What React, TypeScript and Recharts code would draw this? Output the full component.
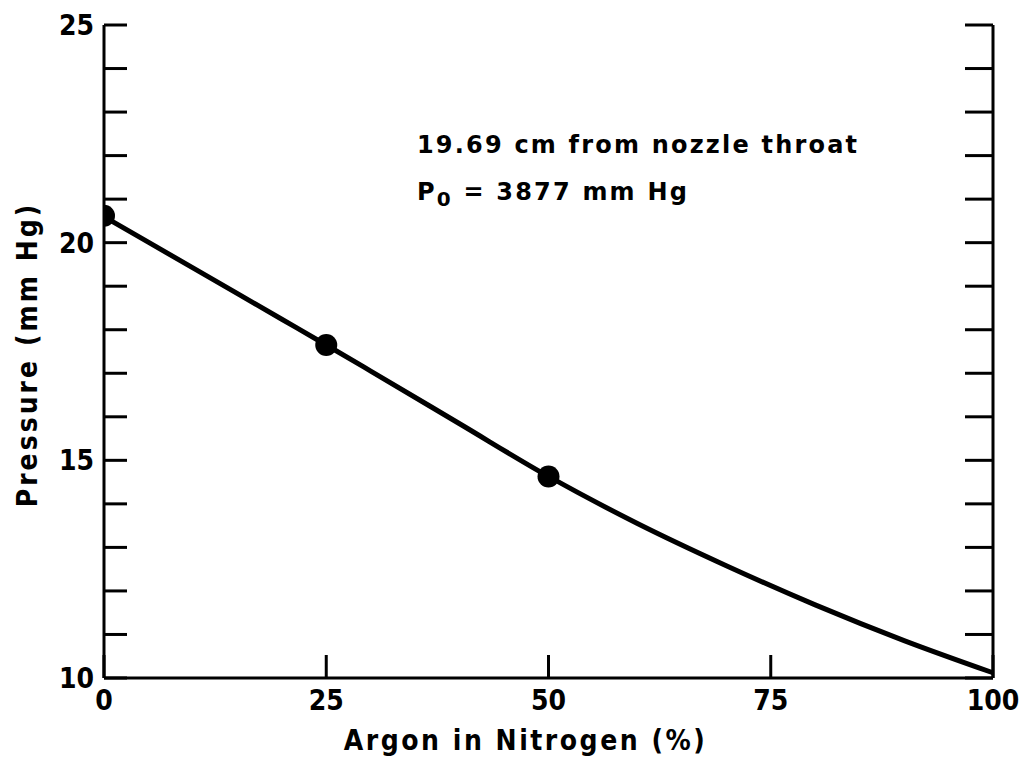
import React from 'react';
import { ComposedChart, Line, Scatter, XAxis, YAxis, ReferenceDot, Label } from 'recharts';

// Smooth fitted curve (Argon % vs pressure mm Hg)
const curveArgon = [0, 10, 20, 25, 30, 40, 50, 60, 70, 80, 90, 100];
const curvePressure = [20.6, 19.42, 18.24, 17.65, 17.05, 15.84, 14.63, 13.55, 12.58, 11.68, 10.86, 10.12];

// Measured points
const pointArgon = [0, 25, 50];
const pointPressure = [20.62, 17.65, 14.63];

const xTicks = [0, 25, 50, 75, 100];
const xTopTicks = [25, 50, 75];
const yTicks = [10, 11, 12, 13, 14, 15, 16, 17, 18, 19, 20, 21, 22, 23, 24, 25];
const yLabelTicks = [10, 15, 20, 25];

const annotationLine1 = '19.69 cm from nozzle throat';
const annotationLine2Parts = ['P', '0', ' = 3877 mm Hg'];

const curveData = curveArgon.map((x, i) => ({ x, p: curvePressure[i] }));
const pointData = pointArgon.map((x, i) => ({ x, p: pointPressure[i] }));

const FONT = '"DejaVu Sans Condensed", "DejaVu Sans", sans-serif';
const axisLineStyle = { stroke: '#000', strokeWidth: 3 };
const tickLineStyle = { stroke: '#000', strokeWidth: 3 };
const tickText = { fill: '#000', fontSize: 28, fontWeight: 700, fontFamily: FONT };

export default function App() {
  return (
    <div style={{ position: 'absolute', left: 0, top: 0, background: '#fff' }}>
      <ComposedChart width={1026} height={771} margin={{ top: 25, right: 0, bottom: 0, left: 0 }}>
        <XAxis
          xAxisId="b"
          dataKey="x"
          type="number"
          domain={[0, 100]}
          ticks={xTicks}
          interval={0}
          orientation="bottom"
          height={93}
          axisLine={axisLineStyle}
          tickLine={tickLineStyle}
          tickSize={-23}
          tickMargin={35}
          tick={tickText}
          allowDataOverflow
        >
          <Label
            content={(props: any) => {
              const vb = props.viewBox || { x: 104, y: 678, width: 889, height: 93 };
              const cx = vb.x + vb.width / 2 - 23;
              const by = vb.y + vb.height - 21;
              return (
                <text
                  x={cx}
                  y={by}
                  textAnchor="middle"
                  style={{ fill: '#000', fontSize: 28, fontWeight: 700, fontFamily: FONT, letterSpacing: 2.5 }}
                >
                  Argon in Nitrogen (%)
                </text>
              );
            }}
          />
        </XAxis>
        <XAxis
          xAxisId="t"
          dataKey="x"
          type="number"
          domain={[0, 100]}
          ticks={xTopTicks}
          interval={0}
          orientation="top"
          height={0}
          axisLine={axisLineStyle}
          tickLine={tickLineStyle}
          tickSize={-25}
          tick={false}
          allowDataOverflow
        />
        <YAxis
          yAxisId="l"
          type="number"
          domain={[10, 25]}
          ticks={yTicks}
          interval={0}
          orientation="left"
          width={104}
          axisLine={axisLineStyle}
          tickLine={tickLineStyle}
          tickSize={-23}
          tickMargin={33}
          tick={tickText}
          tickFormatter={(v: number) => (yLabelTicks.includes(v) ? String(v) : '')}
          allowDataOverflow
        >
          <Label
            content={(props: any) => {
              const vb = props.viewBox || { x: 0, y: 25, width: 104, height: 653 };
              const cx = vb.x + 27;
              const cy = vb.y + vb.height / 2 + 3;
              return (
                <text
                  x={cx}
                  y={cy}
                  transform={`rotate(-90 ${cx} ${cy})`}
                  textAnchor="middle"
                  dominantBaseline="central"
                  style={{ fill: '#000', fontSize: 28, fontWeight: 700, fontFamily: FONT, letterSpacing: 3 }}
                >
                  Pressure (mm Hg)
                </text>
              );
            }}
          />
        </YAxis>
        <YAxis
          yAxisId="r"
          type="number"
          domain={[10, 25]}
          ticks={yTicks}
          interval={0}
          orientation="right"
          width={33}
          axisLine={axisLineStyle}
          tickLine={tickLineStyle}
          tickSize={-28}
          tickFormatter={() => ''}
          allowDataOverflow
        />
        <Line
          xAxisId="b"
          yAxisId="l"
          data={curveData}
          dataKey="p"
          type="monotone"
          stroke="#000"
          strokeWidth={5}
          dot={false}
          activeDot={false}
          isAnimationActive={false}
        />
        <Line
          xAxisId="t"
          yAxisId="r"
          data={curveData}
          dataKey="p"
          stroke="none"
          dot={false}
          activeDot={false}
          legendType="none"
          isAnimationActive={false}
        />
        <Scatter
          xAxisId="b"
          yAxisId="l"
          data={pointData}
          dataKey="p"
          fill="#000"
          isAnimationActive={false}
          shape={(props: any) => <circle cx={props.cx} cy={props.cy} r={11} fill="#000" />}
        />
        <ReferenceDot
          xAxisId="b"
          yAxisId="l"
          x={35.2}
          y={22.06}
          r={0}
          stroke="none"
          fill="none"
          label={(props: any) => {
            const vb = props.viewBox;
            return (
              <text
                x={vb.x}
                y={vb.y}
                style={{ fill: '#000', fontSize: 24, fontWeight: 700, fontFamily: '"DejaVu Sans", sans-serif', letterSpacing: 2.2 }}
              >
                {annotationLine1}
              </text>
            );
          }}
        />
        <ReferenceDot
          xAxisId="b"
          yAxisId="l"
          x={35.2}
          y={20.98}
          r={0}
          stroke="none"
          fill="none"
          label={(props: any) => {
            const vb = props.viewBox;
            return (
              <text
                x={vb.x}
                y={vb.y}
                style={{ fill: '#000', fontSize: 24, fontWeight: 700, fontFamily: '"DejaVu Sans", sans-serif', letterSpacing: 2.2 }}
              >
                <tspan>{annotationLine2Parts[0]}</tspan>
                <tspan dy={6} style={{ fontSize: 20 }}>{annotationLine2Parts[1]}</tspan>
                <tspan dy={-6}>{annotationLine2Parts[2]}</tspan>
              </text>
            );
          }}
        />
      </ComposedChart>
    </div>
  );
}
